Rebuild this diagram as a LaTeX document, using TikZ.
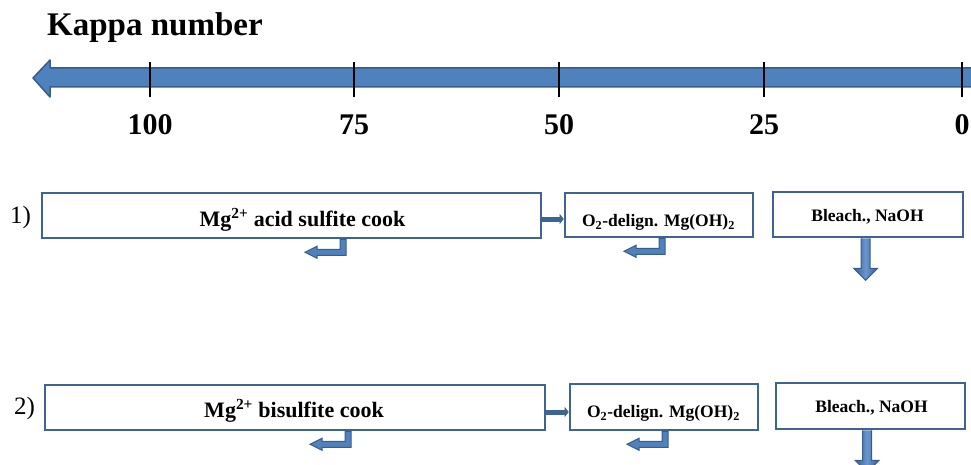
\documentclass[tikz,border=0pt]{standalone}
\usepackage{fontspec}
\setmainfont{Liberation Serif}
\usetikzlibrary{arrows.meta}
\definecolor{axfill}{RGB}{79,129,189}
\definecolor{axline}{RGB}{56,93,138}
\definecolor{boxline}{RGB}{62,100,148}
\definecolor{arrlight}{RGB}{105,150,208}
\begin{document}
\begin{tikzpicture}[x=1pt,y=-1pt,
  procbox/.style={draw=boxline, line width=2.6pt, fill=white, inner sep=0pt},
  bigtxt/.style={anchor=base, inner sep=0pt, font=\fontsize{22}{26}\selectfont\bfseries},
  smalltxt/.style={anchor=base, inner sep=0pt, font=\fontsize{17.5}{21}\selectfont\bfseries},
  numtxt/.style={anchor=base, inner sep=0pt, font=\fontsize{30}{34}\selectfont\bfseries},
  rowtxt/.style={anchor=base west, inner sep=0pt, font=\fontsize{25}{29}\selectfont},
  conn/.style={draw=boxline, line width=5pt, -{Triangle[length=4pt,width=10pt]}},
  tick/.style={draw=black, line width=2.5pt},
  bent/.pic={
    \draw[draw=axline, fill=axfill, line width=1pt, line join=miter]
      (3,0) -- (3,16) -- (-26,16) -- (-26,19) -- (-38,13) -- (-26,7) -- (-26,10)
      -- (-3,10) -- (-3,0) -- cycle;
  },
  down/.pic={
    \shade[left color=axline, right color=axline, middle color=arrlight]
      (-4.5,0) -- (-4.5,30) -- (-12,30) -- (0,42) -- (12,30) -- (4.5,30) -- (4.5,0) -- cycle;
    \draw[draw=axline, line width=1pt]
      (-4.5,0) -- (-4.5,30) -- (-12,30) -- (0,42) -- (12,30) -- (4.5,30) -- (4.5,0);
  }
]
\useasboundingbox (0,0) rectangle (971,465);
\clip (0,0) rectangle (971,465);

% title
\node[anchor=base west, inner sep=0pt, font=\fontsize{33}{38}\selectfont\bfseries] (title) at (47,36) {Kappa number};

% axis arrow
\draw[fill=axfill, draw=axline, line width=1.5pt, line join=round]
  (980,68) -- (50,68) -- (50,60) -- (33,78) -- (50,97) -- (50,87) -- (980,87) -- cycle;
\foreach \x in {150,354,559,764,962} \draw[tick] (\x,62) -- (\x,97);
\node[numtxt] (n100) at (150,135) {100};
\node[numtxt] (n75) at (354,135) {75};
\node[numtxt] (n50) at (559,135) {50};
\node[numtxt] (n25) at (764,135) {25};
\node[numtxt] (n0) at (962,135) {0};

% row 1
\node[rowtxt] (r1) at (10,223) {1)};
\node[procbox, minimum width=499pt, minimum height=45pt] (a1) at (291.5,215.5) {};
\node[procbox, minimum width=188pt, minimum height=44pt] (a2) at (659,215) {};
\node[procbox, minimum width=190pt, minimum height=45pt] (a3) at (868,214.5) {};
\node[bigtxt] (a1t) at (302.5,226) {Mg\textsuperscript{2+} acid sulfite cook};
\node[smalltxt] (a2t) at (658.5,226.5) {O\textsubscript{2}-delign. Mg(OH)\textsubscript{2}};
\node[smalltxt] (a3t) at (867.5,221.5) {Bleach., NaOH};
\draw[conn] ([yshift=-3.5pt]a1.east) -- ([yshift=-3.5pt]a1.east -| a2.west);
\pic at ([xshift=51.5pt]a1.south) {bent};
\pic at ([xshift=3pt]a2.south) {bent};
\pic at ([xshift=-2.5pt]a3.south) {down};

% row 2
\node[rowtxt] (r2) at (14,414) {2)};
\node[procbox, minimum width=500pt, minimum height=45pt] (b1) at (295,407.5) {};
\node[procbox, minimum width=188pt, minimum height=46pt] (b2) at (664,407) {};
\node[procbox, minimum width=189pt, minimum height=46pt] (b3) at (870.5,406) {};
\node[bigtxt] (b1t) at (294,417) {Mg\textsuperscript{2+} bisulfite cook};
\node[smalltxt] (b2t) at (663.5,417.5) {O\textsubscript{2}-delign. Mg(OH)\textsubscript{2}};
\node[smalltxt] (b3t) at (871.5,412.5) {Bleach., NaOH};
\draw[conn] ([yshift=-4.5pt]b1.east) -- ([yshift=-4.5pt]b1.east -| b2.west);
\pic at ([xshift=53pt]b1.south) {bent};
\pic at ([xshift=1pt]b2.south) {bent};
\pic at ([xshift=-3.5pt]b3.south) {down};
\end{tikzpicture}
\end{document}
